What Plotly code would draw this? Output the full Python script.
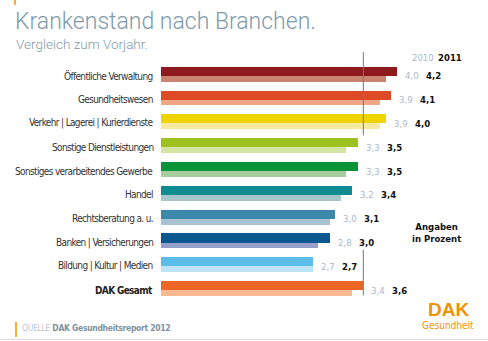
import plotly.graph_objects as go

# Sick-leave rate by industry, 2010 vs 2011 (percent)
categories = [
    "Öffentliche Verwaltung",
    "Gesundheitswesen",
    "Verkehr | Lagerei | Kurierdienste",
    "Sonstige Dienstleistungen",
    "Sonstiges verarbeitendes Gewerbe",
    "Handel",
    "Rechtsberatung a. u.",
    "Banken | Versicherungen",
    "Bildung | Kultur | Medien",
    "DAK Gesamt",
]
values_2010 = [4.0, 3.9, 3.9, 3.3, 3.3, 3.2, 3.0, 2.8, 2.7, 3.4]
values_2011 = [4.2, 4.1, 4.0, 3.5, 3.5, 3.4, 3.1, 3.0, 2.7, 3.6]

colors_2011 = ["#8e1a1e", "#dd4a25", "#f0d400", "#9dc21f", "#0a9438",
               "#0e8c91", "#3b88aa", "#0b5890", "#5cbde8", "#ec6625"]
colors_2010 = ["#c9836f", "#f0a685", "#f8e9a0", "#d4e5a2", "#a7cc9e",
               "#a6c6c9", "#a8c2d2", "#94a0c9", "#bde3f5", "#f9b991"]

rows = list(range(len(categories)))
total_2011 = values_2011[-1]

NARROW = "DejaVu Sans Condensed, DejaVu Sans, sans-serif"
TITLE_FONT = "Roboto, Arial, sans-serif"
GREY_BLUE = "#7f9aaa"
LIGHT_VAL = "#a9b9c8"


def narrow(size, color, weight="normal"):
    return dict(family=NARROW, size=size, color=color, weight=weight)


def tight(text, spacing=-0.65):
    return f"<span style='letter-spacing:{spacing}px'>{text}</span>"


fig = go.Figure()
fig.add_trace(go.Bar(
    y=rows, x=values_2011, orientation="h",
    width=0.38, offset=-0.38,
    marker=dict(color=colors_2011, line=dict(width=0)),
    hoverinfo="skip", name="2011",
))
fig.add_trace(go.Bar(
    y=rows, x=values_2010, orientation="h",
    width=0.245, offset=0,
    marker=dict(color=colors_2010, line=dict(width=0)),
    hoverinfo="skip", name="2010",
))

annotations = []
for i, cat in enumerate(categories):
    bold = cat == "DAK Gesamt"
    annotations.append(dict(
        x=0, y=i, xref="x", yref="y", text=tight(cat), showarrow=False,
        xanchor="right", yanchor="middle", xshift=-6,
        font=narrow(10, "#222222" if bold else "#333333", "bold" if bold else "normal"),
    ))
    annotations.append(dict(
        x=values_2011[i], y=i, xref="x", yref="y",
        text=f"{values_2010[i]:.1f}".replace(".", ","), showarrow=False,
        xanchor="left", yanchor="middle", xshift=6,
        font=narrow(9.5, LIGHT_VAL),
    ))
    annotations.append(dict(
        x=values_2011[i], y=i, xref="x", yref="y",
        text=f"{values_2011[i]:.1f}".replace(".", ","), showarrow=False,
        xanchor="left", yanchor="middle", xshift=27,
        font=narrow(9.5, "#111111", "bold"),
    ))

# year headers above the value columns
annotations += [
    dict(x=values_2011[0], y=-0.75, xref="x", yref="y", text="2010",
         showarrow=False, xanchor="left", yanchor="middle", xshift=13,
         font=narrow(9.5, LIGHT_VAL)),
    dict(x=values_2011[0], y=-0.75, xref="x", yref="y", text="2011",
         showarrow=False, xanchor="left", yanchor="middle", xshift=39,
         font=narrow(9.5, "#111111", "bold")),
]

# titles, notes, source and logo
annotations += [
    dict(x=13, y=341 - 6, xref="paper", yref="paper", text="Krankenstand nach Branchen.",
         showarrow=False, xanchor="left", yanchor="top",
         font=dict(family=TITLE_FONT, size=23, color=GREY_BLUE, weight=300)),
    dict(x=14, y=341 - 34, xref="paper", yref="paper", text="Vergleich zum Vorjahr.",
         showarrow=False, xanchor="left", yanchor="top",
         font=dict(family=TITLE_FONT, size=13.5, color=GREY_BLUE, weight=300)),
    dict(x=436, y=341 - 232, xref="paper", yref="paper",
         text="Angaben<br>in Prozent", showarrow=False,
         xanchor="center", yanchor="middle", align="center",
         font=narrow(9.5, "#111111", "bold")),
    dict(x=20, y=341 - 328, xref="paper", yref="paper",
         text=tight("<span style='color:#bcc7cf;font-weight:normal'>QUELLE</span> "
                    "DAK Gesundheitsreport 2012", -0.3),
         showarrow=False, xanchor="left", yanchor="middle",
         font=narrow(8.5, "#7f93a0", "bold")),
    dict(x=448, y=341 - 309, xref="paper", yref="paper", text="<b>DAK</b>",
         showarrow=False, xanchor="center", yanchor="middle",
         font=dict(family="Liberation Sans, Arial, sans-serif", size=19, color="#f39200")),
    dict(x=448, y=341 - 325.5, xref="paper", yref="paper", text="Gesundheit",
         showarrow=False, xanchor="center", yanchor="middle",
         font=narrow(10, "#f39200")),
]

# convert paper annotations given in pixels to paper fractions
W, H = 488, 341
ML, MR, MT, MB = 161, 18, 52, 27
pw, ph = W - ML - MR, H - MT - MB
for a in annotations:
    if a["xref"] == "paper":
        a["x"] = (a["x"] - ML) / pw
        a["y"] = (a["y"] - MB) / ph

shapes = [
    # reference line at the overall 2011 rate, broken where the value labels sit
    dict(type="line", xref="x", yref="y", x0=total_2011, x1=total_2011,
         y0=-1, y1=2.5, line=dict(color="#777777", width=1), layer="above"),
    dict(type="line", xref="x", yref="y", x0=total_2011, x1=total_2011,
         y0=7.3, y1=9.22, line=dict(color="#777777", width=1), layer="above"),
    # orange accents and bottom rule
    dict(type="line", xref="paper", yref="paper",
         x0=(16 - ML) / pw, x1=(16 - ML) / pw,
         y0=(H - 322 - MB) / ph, y1=(H - 337 - MB) / ph,
         line=dict(color="#f39200", width=1.5)),
    dict(type="line", xref="paper", yref="paper",
         x0=(15 - ML) / pw, x1=(15 - ML) / pw,
         y0=(H - 0 - MB) / ph, y1=(H - 5 - MB) / ph,
         line=dict(color="#f39200", width=1.5)),
    dict(type="line", xref="paper", yref="paper",
         x0=-ML / pw, x1=(W - ML) / pw,
         y0=(H - 339.5 - MB) / ph, y1=(H - 339.5 - MB) / ph,
         line=dict(color="#dddddd", width=1)),
]

fig.update_layout(
    width=W, height=H,
    margin=dict(l=ML, r=MR, t=MT, b=MB),
    paper_bgcolor="white", plot_bgcolor="white",
    barmode="overlay", bargap=0, showlegend=False,
    xaxis=dict(range=[0, pw / 56.2], visible=False, fixedrange=True),
    yaxis=dict(range=[10, -1], visible=False, fixedrange=True),
    annotations=annotations, shapes=shapes,
)

fig.write_html("out.html", config={"displayModeBar": False})
